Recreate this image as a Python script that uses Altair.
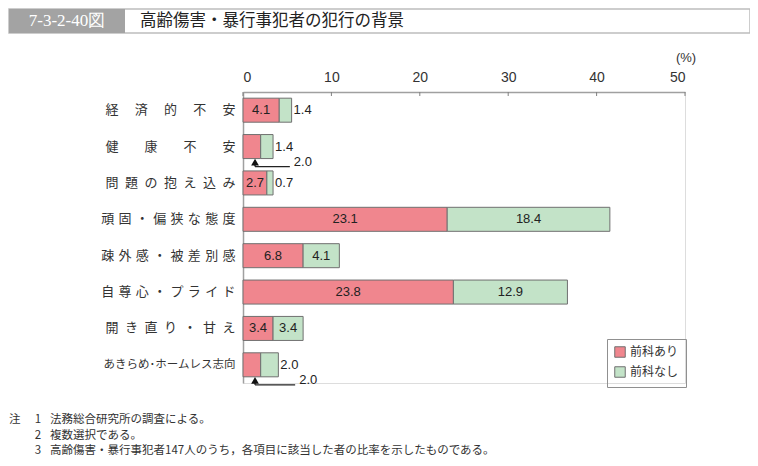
import altair as alt
import pandas as pd

categories = ["経\u3000\u2005済\u3000\u2005的\u3000\u2005不\u3000\u2005安",
              "健\u3000\u3000康\u3000\u3000不\u3000\u3000安",
              "問\u2002題\u2002の\u2002抱\u2002え\u2002込\u2002み",
              "頑\u2004固\u2004・\u2004偏\u2004狭\u2004な\u2004態\u2004度",
              "疎\u2004外\u2004感\u2004・\u2004被\u2004差\u2004別\u2004感",
              "自\u2004尊\u2004心\u2004・\u2004プ\u2004ラ\u2004イ\u2004ド",
              "開\u2002き\u2002直\u2002り\u2002・\u2002甘\u2002え",
              "あきらめ･ホームレス志向"]
with_record = [4.1, 2.0, 2.7, 23.1, 6.8, 23.8, 3.4, 2.0]
without_record = [1.4, 1.4, 0.7, 18.4, 4.1, 12.9, 3.4, 2.0]
series_names = ["前科あり", "前科なし"]
series_colors = ["#F0868E", "#C3E3C8"]
x_ticks = [0, 10, 20, 30, 40, 50]
notes_num = ["1", "2", "3"]
notes_text = ["法務総合研究所の調査による。",
              "複数選択である。",
              "高齢傷害・暴行事犯者147人のうち，各項目に該当した者の比率を示したものである。"]

rows = []
for c, a, b in zip(categories, with_record, without_record):
    rows.append({"cat": c, "series": series_names[0], "start": 0.0, "end": a, "v": a,
                 "total": a + b})
    rows.append({"cat": c, "series": series_names[1], "start": a, "end": a + b, "v": b,
                 "total": a + b})
df = pd.DataFrame(rows)
df["mid"] = (df["start"] + df["end"]) / 2
df["label"] = df["v"].map(lambda v: f"{v:.1f}")
inside = df[df["v"] >= 2.5]
outside = df[(df["v"] < 2.5) & (df["series"] == series_names[1])]
ann = df[(df["v"] < 2.5) & (df["series"] == series_names[0])].copy()
ann["ax"] = ann["v"] * 0.68
ann["lx"] = ann["total"] + 1.9

font_jp = "Noto Sans CJK JP"
font_num = "Liberation Sans"
last_label = categories[-1]

yscale = alt.Scale(domain=categories, paddingInner=0.34, paddingOuter=0.17)
xscale = alt.Scale(domain=[0, 50], nice=False)
Y = alt.Y("cat:N", sort=categories, scale=yscale,
          axis=alt.Axis(title=None, ticks=False, domainColor="#A0A0A0", domainWidth=1.5,
                        labelFont=font_jp,
                        labelFontSize={"condition": {"test": f"datum.value == '{last_label}'",
                                                     "value": 11.5},
                                       "value": 13},
                        labelColor="#333333", labelPadding=8))

bars = alt.Chart(df).mark_bar(stroke="#707070", strokeWidth=1).encode(
    y=Y,
    x=alt.X("start:Q", scale=xscale,
            axis=alt.Axis(orient="top", title=None, values=x_ticks, ticks=False,
                          grid=False, domainColor="#A0A0A0", domainWidth=1.5,
                          labelFont=font_num, labelFontSize=14, labelColor="#333333",
                          labelPadding=8)),
    x2="end:Q",
    color=alt.Color("series:N", scale=alt.Scale(domain=series_names, range=series_colors),
                    legend=alt.Legend(title=None, orient="none", legendX=364, legendY=247,
                                      strokeColor="#909090", padding=7,
                                      symbolType="square", symbolSize=110,
                                      symbolStrokeColor="#707070", symbolStrokeWidth=1,
                                      labelFont=font_jp, labelFontSize=12,
                                      labelColor="#333333", rowPadding=4)),
)

txt_in = alt.Chart(inside).mark_text(font=font_num, fontSize=13, color="#222222").encode(
    y=alt.Y("cat:N", sort=categories, scale=yscale), x=alt.X("mid:Q", scale=xscale),
    text="label:N")

txt_out = alt.Chart(outside).mark_text(font=font_num, fontSize=13, color="#222222",
                                       align="left", dx=2).encode(
    y=alt.Y("cat:N", sort=categories, scale=yscale), x=alt.X("end:Q", scale=xscale),
    text="label:N")

ann_h = alt.Chart(ann).mark_rule(color="#222222", strokeWidth=1.3, yOffset=20).encode(
    y=alt.Y("cat:N", sort=categories, scale=yscale),
    x=alt.X("ax:Q", scale=xscale), x2="lx:Q")
ann_v = alt.Chart(ann).mark_rule(color="#222222", strokeWidth=1.5, yOffset=15,
                                 y2Offset=20).encode(
    y=alt.Y("cat:N", sort=categories, scale=yscale), y2="cat:N",
    x=alt.X("ax:Q", scale=xscale))
ann_tri = alt.Chart(ann).mark_point(shape="triangle-up", filled=True, color="#111111",
                                    size=60, opacity=1, yOffset=15.5).encode(
    y=alt.Y("cat:N", sort=categories, scale=yscale), x=alt.X("ax:Q", scale=xscale))
ann_txt = alt.Chart(ann).mark_text(font=font_num, fontSize=13, color="#222222",
                                   align="left", dx=4, yOffset=15).encode(
    y=alt.Y("cat:N", sort=categories, scale=yscale), x=alt.X("lx:Q", scale=xscale),
    text="label:N")

ticks = alt.Chart(pd.DataFrame({"t": x_ticks})).mark_rule(color="#808080").encode(
    x=alt.X("t:Q", scale=xscale), y=alt.value(0), y2=alt.value(4))

one = pd.DataFrame({"a": [0]})
pct = alt.Chart(one).mark_text(text="(%)", font=font_num, fontSize=13,
                               color="#333333").encode(x=alt.value(443), y=alt.value(-34))

bar_outer = alt.Chart(one).mark_rect(fill="white", stroke="#BDBDBD", strokeWidth=1.5).encode(
    x=alt.value(-234), x2=alt.value(507), y=alt.value(-83), y2=alt.value(-59))
bar_gray = alt.Chart(one).mark_rect(fill="#A3A3A3").encode(
    x=alt.value(-234), x2=alt.value(-118), y=alt.value(-83), y2=alt.value(-59))
fig_no = alt.Chart(one).mark_text(text="7-3-2-40図", font="Liberation Sans Narrow",
                                  fontSize=17, color="white").encode(
    x=alt.value(-176), y=alt.value(-71))
title = alt.Chart(one).mark_text(text="高齢傷害・暴行事犯者の犯行の背景", font=font_jp,
                                 fontSize=16.5, color="#222222", align="left").encode(
    x=alt.value(-103), y=alt.value(-71))

note_layers = [alt.Chart(one).mark_text(text="注", font=font_jp, fontSize=11.5,
                                        color="#333333", align="left").encode(
    x=alt.value(-234), y=alt.value(328))]
for k, (n, t) in enumerate(zip(notes_num, notes_text)):
    yy = 328 + 15.5 * k
    note_layers.append(alt.Chart(one).mark_text(text=n, font=font_jp, fontSize=11.5,
                                                color="#333333").encode(
        x=alt.value(-205), y=alt.value(yy)))
    note_layers.append(alt.Chart(one).mark_text(text=t, font=font_jp, fontSize=11.5,
                                                color="#333333", align="left").encode(
        x=alt.value(-193), y=alt.value(yy)))

chart = alt.layer(bars, txt_in, txt_out, ann_h, ann_v, ann_tri, ann_txt, ticks, pct,
                  bar_outer, bar_gray, fig_no, title, *note_layers).properties(
    width=442, height=291,
    autosize=alt.AutoSizeParams(type="none"),
    padding={"left": 235, "top": 84, "right": 65, "bottom": 75},
).configure_view(stroke=None).configure(background="white")

chart.save("out.html", embed_options={"renderer": "svg", "actions": False})
